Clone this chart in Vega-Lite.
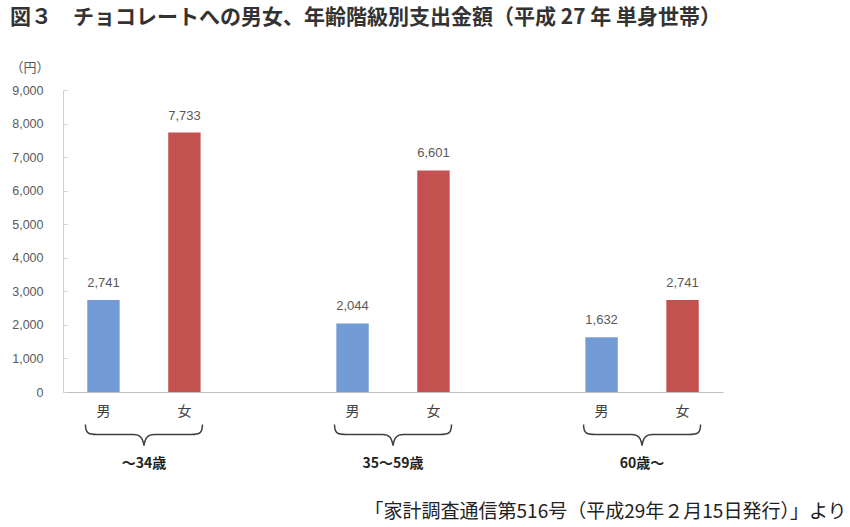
{
  "$schema": "https://vega.github.io/schema/vega-lite/v6.json",
  "padding": {"left": 10, "top": 7, "right": 5, "bottom": 0},
  "background": "white",
  "title": {
    "text": "図３　チョコレートへの男女、年齢階級別支出金額（平成 27 年 単身世帯）",
    "anchor": "start",
    "font": "Noto Sans CJK JP",
    "fontSize": 21,
    "fontWeight": "bold",
    "color": "#333333",
    "offset": 33
  },
  "datasets": {
    "bars": [
      {"age": "～34歳", "sex": "男", "value": 2741},
      {"age": "～34歳", "sex": "女", "value": 7733},
      {"age": "35～59歳", "sex": "男", "value": 2044},
      {"age": "35～59歳", "sex": "女", "value": 6601},
      {"age": "60歳～", "sex": "男", "value": 1632},
      {"age": "60歳～", "sex": "女", "value": 2741}
    ],
    "groups": [
      {"age": "～34歳"},
      {"age": "35～59歳"},
      {"age": "60歳～"}
    ]
  },
  "spacing": 1,
  "resolve": {"scale": {"x": "shared", "xOffset": "shared"}},
  "vconcat": [
    {
      "width": 660,
      "height": 302,
      "data": {"name": "bars"},
      "encoding": {
        "x": {
          "field": "age",
          "type": "nominal",
          "sort": ["～34歳", "35～59歳", "60歳～"],
          "scale": {"paddingInner": 0.35, "paddingOuter": 0},
          "axis": {"labels": false, "ticks": false, "title": null, "domainColor": "#bfbfbf"}
        },
        "xOffset": {
          "field": "sex",
          "type": "nominal",
          "sort": ["男", "女"],
          "scale": {"paddingInner": 0.6, "paddingOuter": 0.3}
        },
        "y": {
          "field": "value",
          "type": "quantitative",
          "scale": {"domain": [0, 9000], "nice": false},
          "axis": {
            "values": [0, 1000, 2000, 3000, 4000, 5000, 6000, 7000, 8000, 9000],
            "format": ",.0f",
            "grid": false,
            "domainColor": "#d0d0d0",
            "tickColor": "#d0d0d0",
            "tickSize": -4,
            "labelPadding": 24,
            "labelFont": "Liberation Sans",
            "labelFontSize": 12.5,
            "labelColor": "#595959",
            "title": "（円）",
            "titleAngle": 0,
            "titleX": -53,
            "titleY": -23,
            "titleAlign": "left",
            "titleBaseline": "middle",
            "titleFont": "Noto Sans CJK JP",
            "titleFontSize": 13,
            "titleFontWeight": "normal",
            "titleColor": "#595959"
          }
        }
      },
      "layer": [
        {
          "mark": {"type": "bar"},
          "encoding": {
            "color": {
              "field": "sex",
              "type": "nominal",
              "scale": {"domain": ["男", "女"], "range": ["#729bd6", "#c2514f"]},
              "legend": null
            }
          }
        },
        {
          "mark": {
            "type": "text",
            "dy": -17,
            "baseline": "middle",
            "font": "Liberation Sans",
            "fontSize": 13,
            "color": "#595959"
          },
          "encoding": {
            "text": {"field": "value", "type": "quantitative", "format": ","}
          }
        }
      ]
    },
    {
      "width": 660,
      "height": 46,
      "encoding": {
        "x": {
          "field": "age",
          "type": "nominal",
          "sort": ["～34歳", "35～59歳", "60歳～"],
          "axis": {
            "domain": false,
            "ticks": false,
            "tickSize": 0,
            "labelPadding": 10,
            "labelFont": "Noto Sans CJK JP",
            "labelFontSize": 14,
            "labelFontWeight": "bold",
            "labelColor": "#222222",
            "labelAngle": 0,
            "title": "「家計調査通信第516号（平成29年２月15日発行）」より",
            "titleFont": "Noto Sans CJK JP",
            "titleFontSize": 19,
            "titleFontWeight": "normal",
            "titleColor": "#222222",
            "titlePadding": 32,
            "titleX": 783,
            "titleAlign": "right"
          }
        }
      },
      "layer": [
        {
          "data": {"name": "bars"},
          "mark": {
            "type": "text",
            "baseline": "middle",
            "font": "Noto Sans CJK JP",
            "fontSize": 14,
            "color": "#404040"
          },
          "encoding": {
            "xOffset": {"field": "sex", "type": "nominal", "sort": ["男", "女"]},
            "y": {
              "datum": "label",
              "type": "nominal",
              "scale": {"type": "point", "domain": ["label", "brace"], "padding": 0.5},
              "axis": null
            },
            "text": {"field": "sex", "type": "nominal"}
          }
        },
        {
          "data": {"name": "groups"},
          "mark": {
            "type": "point",
            "shape": "M -1 -0.17 C -1 -0.03 -0.96 0 -0.8 0 L -0.18 0 C -0.06 0 -0.02 0.06 0 0.19 C 0.02 0.06 0.06 0 0.18 0 L 0.8 0 C 0.96 0 1 -0.03 1 -0.17",
            "size": 13689,
            "filled": false,
            "color": "#404040",
            "strokeWidth": 1.5,
            "opacity": 1
          },
          "encoding": {
            "y": {"datum": "brace", "type": "nominal"}
          }
        }
      ]
    }
  ],
  "config": {"view": {"stroke": null}}
}
